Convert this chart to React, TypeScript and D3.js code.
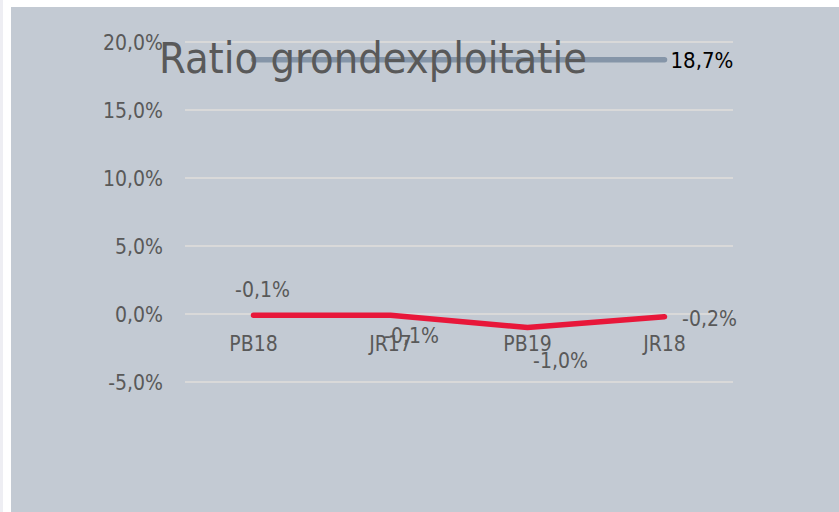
import { useEffect, useRef } from "react";
import * as d3 from "d3";

const categories = ["PB18", "JR17", "PB19", "JR18"];
const ratioValues = [-0.1, -0.1, -1.0, -0.2];
const normValues = [18.7, 18.7, 18.7, 18.7];
const yTicks = [-5, 0, 5, 10, 15, 20];
const ratioLabels = ["-0,1%", "-0,1%", "-1,0%", "-0,2%"];
// label offsets (dx, dy) from each point, as in the original layout
const ratioLabelOffsets = [
  [9, -26],
  [21, 20],
  [33, 33],
  [45, 2],
];

const W = 839;
const H = 512;
const FONT = "'DejaVu Sans Condensed', 'DejaVu Sans', sans-serif";

export default function App() {
  const ref = useRef<SVGSVGElement | null>(null);

  useEffect(() => {
    const svg = d3.select(ref.current);
    svg.selectAll("*").remove();

    // page frame
    svg.append("rect").attr("width", W).attr("height", H).attr("fill", "#ffffff");
    svg.append("rect").attr("x", 0).attr("y", 0).attr("width", 3).attr("height", H).attr("fill", "#eeeef3");
    svg.append("rect").attr("x", 11).attr("y", 7).attr("width", W - 11).attr("height", H - 7).attr("fill", "#c3cad3");

    const x = d3.scaleBand().domain(categories).range([185, 733]);
    const y = d3.scaleLinear().domain([-5, 20]).range([382, 42]);
    const cx = (c: string) => (x(c) as number) + x.bandwidth() / 2;

    // gridlines
    svg
      .append("g")
      .selectAll("line")
      .data(yTicks)
      .enter()
      .append("line")
      .attr("x1", 185)
      .attr("x2", 733)
      .attr("y1", (d) => y(d))
      .attr("y2", (d) => y(d))
      .attr("stroke", "#d9d9d9")
      .attr("stroke-width", 2);

    // y tick labels
    const fmt = (d: number) => d3.format(".1f")(d).replace(".", ",").replace("−", "-") + "%";
    svg
      .append("g")
      .selectAll("text")
      .data(yTicks)
      .enter()
      .append("text")
      .attr("x", 163)
      .attr("y", (d) => y(d))
      .attr("dy", "0.36em")
      .attr("text-anchor", "end")
      .attr("font-family", FONT)
      .attr("font-size", 21)
      .attr("fill", "#595959")
      .text(fmt);

    // category labels
    svg
      .append("g")
      .selectAll("text")
      .data(categories)
      .enter()
      .append("text")
      .attr("x", cx)
      .attr("y", y(0) + 37)
      .attr("text-anchor", "middle")
      .attr("font-family", FONT)
      .attr("font-size", 21)
      .attr("fill", "#595959")
      .text((d) => d);

    const line = d3
      .line<number>()
      .x((_, i) => cx(categories[i]))
      .y((d) => y(d));

    // norm line
    svg
      .append("path")
      .attr("d", line(normValues))
      .attr("fill", "none")
      .attr("stroke", "#8595a8")
      .attr("stroke-width", 5.5)
      .attr("stroke-linecap", "round");

    svg
      .append("text")
      .attr("x", cx(categories[3]) + 6)
      .attr("y", y(normValues[3]))
      .attr("dy", "0.36em")
      .attr("font-family", FONT)
      .attr("font-size", 22)
      .attr("fill", "#000000")
      .text("18,7%");

    // title (drawn over the norm line, as in the original)
    svg
      .append("text")
      .attr("x", 373)
      .attr("y", 73)
      .attr("text-anchor", "middle")
      .attr("font-family", FONT)
      .attr("font-size", 43)
      .attr("fill", "#595959")
      .text("Ratio grondexploitatie");

    // ratio line
    svg
      .append("path")
      .attr("d", line(ratioValues))
      .attr("fill", "none")
      .attr("stroke", "#e8173a")
      .attr("stroke-width", 5.5)
      .attr("stroke-linecap", "round")
      .attr("stroke-linejoin", "round");

    svg
      .append("g")
      .selectAll("text")
      .data(ratioValues)
      .enter()
      .append("text")
      .attr("x", (_, i) => cx(categories[i]) + ratioLabelOffsets[i][0])
      .attr("y", (d, i) => y(d) + ratioLabelOffsets[i][1])
      .attr("dy", "0.36em")
      .attr("text-anchor", "middle")
      .attr("font-family", FONT)
      .attr("font-size", 21)
      .attr("fill", "#595959")
      .text((_, i) => ratioLabels[i]);
  }, []);

  return (
    <div style={{ position: "fixed", left: 0, top: 0 }}>
      <svg ref={ref} width={W} height={H} style={{ display: "block" }} />
    </div>
  );
}
